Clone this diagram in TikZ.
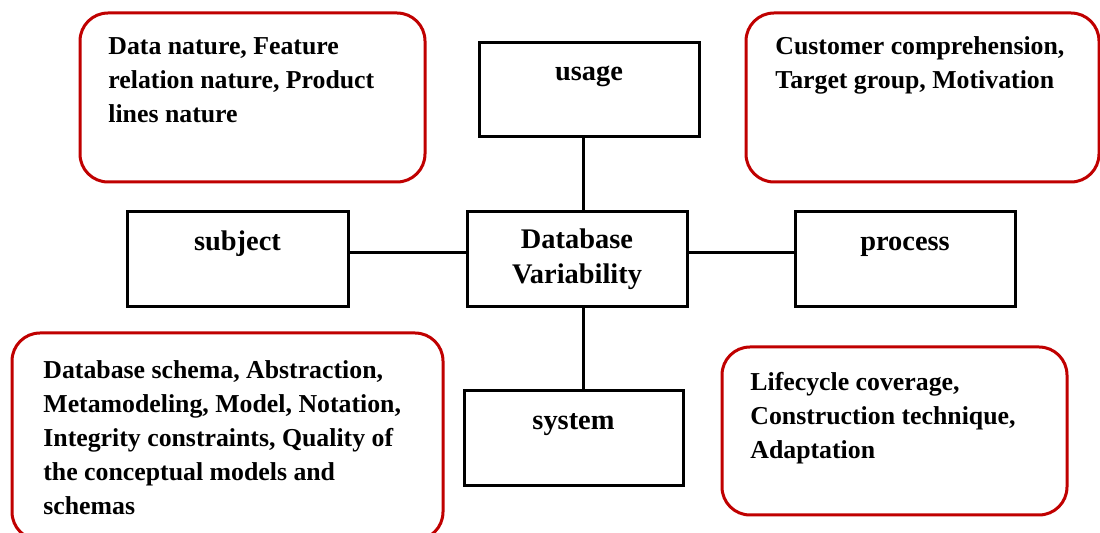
\documentclass[tikz,border=0pt]{standalone}
\usepackage{fontspec}
\setmainfont{Liberation Serif}
\definecolor{boxred}{RGB}{192,0,0}
\begin{document}
\begin{tikzpicture}[x=0.5pt,y=-0.5pt,
  blk/.style={draw=black, line width=1.5pt, rectangle, inner sep=0pt,
    font=\fontsize{14.2}{17.5}\selectfont\bfseries},
  toplbl/.style={text height=8pt, text depth=17pt},
  rbox/.style={draw=boxred, line width=1.5pt, rounded corners=14pt, rectangle, inner sep=0pt},
  rtxt/.style={anchor=base west, inner sep=0pt, font=\fontsize{12.9}{17}\selectfont\bfseries},
  conn/.style={draw=black, line width=1.5pt}]
\useasboundingbox (0,0) rectangle (1100,533);
\fill[white] (0,0) rectangle (1100,533);

% rounded (red) boxes
\node[rbox, minimum width=172.5pt, minimum height=84.5pt] (tl) at (252.5,97.5) {};
\node[rbox, minimum width=176.5pt, minimum height=84.5pt] (tr) at (922.5,97.5) {};
\node[rbox, minimum width=215.5pt, minimum height=103.5pt] (bl) at (227.5,436.5) {};
\node[rbox, minimum width=172.5pt, minimum height=84pt] (br) at (894.5,431) {};

\node[rtxt] (tltxt) at (108,55) {\parbox[t]{200pt}{\raggedright Data nature, Feature\\relation nature, Product\\lines nature}};
\node[rtxt] (trtxt) at (775,55) {\parbox[t]{200pt}{\raggedright Customer comprehension,\\Target group, Motivation}};
\node[rtxt] (bltxt) at (43,379) {\parbox[t]{220pt}{\raggedright Database schema, Abstraction,\\Metamodeling, Model, Notation,\\Integrity constraints, Quality of\\the conceptual models and\\schemas}};
\node[rtxt] (brtxt) at (750,391) {\parbox[t]{200pt}{\raggedright Lifecycle coverage,\\Construction technique,\\Adaptation}};

% black boxes
\node[blk, toplbl, minimum width=110pt, minimum height=47pt] (usage) at (589,90) {usage};
\node[blk, toplbl, minimum width=110.5pt, minimum height=47.5pt] (subject) at (237.5,259.5) {subject};
\node[blk, align=center, minimum width=110pt, minimum height=47.5pt] (db) at (577,259.5) {Database\\Variability};
\node[blk, toplbl, minimum width=110pt, minimum height=47.5pt] (process) at (905,259.5) {process};
\node[blk, toplbl, minimum width=109.5pt, minimum height=47.5pt] (system) at (573.5,438.5) {system};

% connectors
\coordinate (vx) at (583,0);
\coordinate (hy) at (0,253);
\draw[conn] (usage.south -| vx) -- (db.north -| vx);
\draw[conn] (db.south -| vx) -- (system.north -| vx);
\draw[conn] (subject.east |- hy) -- (db.west |- hy);
\draw[conn] (db.east |- hy) -- (process.west |- hy);
\end{tikzpicture}
\end{document}
